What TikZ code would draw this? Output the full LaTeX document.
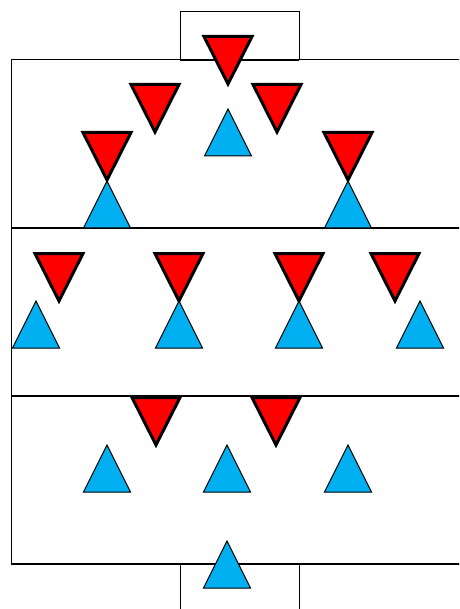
\documentclass[tikz,border=0pt]{standalone}
\usetikzlibrary{calc}
\definecolor{redFill}{HTML}{FF0000}
\definecolor{blueFill}{HTML}{00B0F0}
\tikzset{
  pitch/.style = {draw=black, line width=1pt},
  thickline/.style = {draw=black, line width=2pt},
  redtri/.style = {fill=redFill, draw=black, line width=3pt, line join=miter},
  bluetri/.style = {fill=blueFill, draw=black, line width=1pt, line join=miter},
}

\begin{document}
\begin{tikzpicture}[x=1pt, y=-1pt]
\useasboundingbox (0,0) rectangle (459,609);
\clip (0,0) rectangle (459,609);

% pitch
\draw[pitch] (470,60) -- (11,60) -- (11,564) -- (470,564);
\draw[pitch] (180,60) -- (180,12) -- (299,12) -- (299,60);
\draw[pitch] (180,564) -- (180,620);
\draw[pitch] (299,564) -- (299,620);
\draw[thickline] (180,60) -- (299,60);
\draw[thickline] (11,228) -- (470,228);
\draw[thickline] (11,396) -- (470,396);
\draw[thickline] (11,564) -- (470,564);

% red players (point down): centre x / top y
\foreach \cx/\ty in {228/35, 155/83, 277/83, 107/131, 348/131,
                     59/252, 179/252, 299/252, 395/252,
                     156/396, 276/396}
  \path[redtri] ({\cx-24},{\ty+1.5}) -- ({\cx+24},{\ty+1.5}) -- (\cx,{\ty+49}) -- cycle;

% blue players (point up): centre x / base y
\foreach \cx/\by in {228/156, 107/228, 348/228,
                     36/348, 179/348, 299/348, 420/348,
                     107/492, 227/492, 348/492, 227/588}
  \path[bluetri] ({\cx-23.5},\by) -- ({\cx+23.5},\by) -- (\cx,{\by-47}) -- cycle;

\end{tikzpicture}
\end{document}
